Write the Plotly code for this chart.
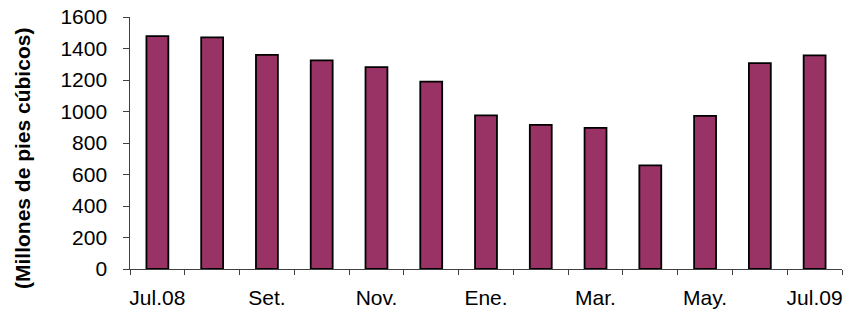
import plotly.graph_objects as go

months = ["Jul.08", "Ago.", "Set.", "Oct.", "Nov.", "Dic.", "Ene.", "Feb.",
          "Mar.", "Abr.", "May.", "Jun.", "Jul.09"]
tick_labels = ["Jul.08", "", "Set.", "", "Nov.", "", "Ene.", "", "Mar.", "",
               "May.", "", "Jul.09"]
values = [1478, 1470, 1360, 1325, 1282, 1190, 976, 915, 896, 658, 972, 1307, 1356]
y_title = "(Millones de pies cúbicos)"

FONT = "Liberation Sans, Arial, sans-serif"
x_pos = list(range(len(months)))

fig = go.Figure(
    go.Bar(
        x=x_pos,
        y=values,
        customdata=months,
        hovertemplate="%{customdata}: %{y}<extra></extra>",
        marker=dict(color="#993366", line=dict(color="#000000", width=1.8)),
    )
)

fig.update_layout(
    width=846,
    height=311,
    margin=dict(l=130, r=4, t=17, b=42, autoexpand=False),
    paper_bgcolor="white",
    plot_bgcolor="white",
    bargap=0.6,
    showlegend=False,
    font=dict(family=FONT, color="black"),
)

fig.update_xaxes(
    tickmode="array",
    tickvals=[p for p, t in zip(x_pos, tick_labels) if t],
    ticktext=[t for t in tick_labels if t],
    tickangle=0,
    ticks="",
    ticklabelstandoff=10,
    ticklabeloverflow="allow",
    minor=dict(ticks="outside", ticklen=5, tickcolor="#404040",
               tick0=-0.5, dtick=1, showgrid=False),
    showline=True,
    linecolor="#404040",
    linewidth=1,
    showgrid=False,
    zeroline=False,
    automargin=False,
    tickfont=dict(size=21, family=FONT, color="black"),
    range=[-0.5, len(months) - 0.5],
)

fig.update_yaxes(
    range=[0, 1600],
    tickmode="linear",
    tick0=0,
    dtick=200,
    ticks="outside",
    ticklen=6,
    tickcolor="#404040",
    showline=True,
    linecolor="#404040",
    linewidth=1,
    showgrid=False,
    zeroline=False,
    automargin=False,
    ticksuffix="\u00a0\u00a0",
    ticklabeloverflow="allow",
    tickfont=dict(size=21, family=FONT, color="black"),
)

fig.add_annotation(
    text=y_title,
    xref="paper",
    yref="paper",
    x=(22 - 130) / 712,
    y=(269 - 159) / 252,
    xanchor="center",
    yanchor="middle",
    textangle=-90,
    showarrow=False,
    font=dict(size=21, family=FONT, color="black", weight="bold"),
)

# remove the browser's default page margin so the figure fills the window
fig.write_html(
    "out.html",
    config={"displayModeBar": False},
    post_script="document.body.style.margin='0';",
)
